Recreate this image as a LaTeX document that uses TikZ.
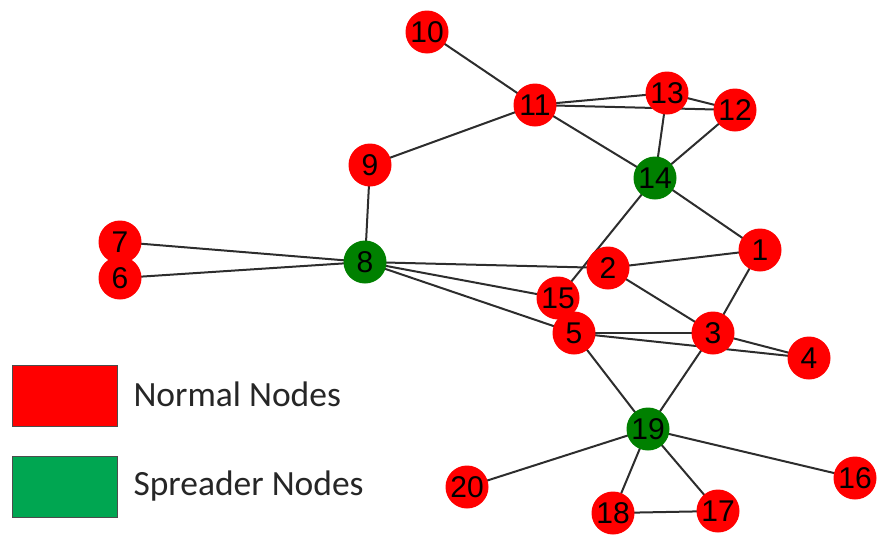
\documentclass[tikz,border=0pt]{standalone}
\usepackage{fontspec}
\setmainfont{Liberation Sans}
\newfontfamily\legendfont{Carlito}
\definecolor{nred}{RGB}{255,0,0}
\definecolor{ngreen}{RGB}{0,128,0}
\definecolor{lgreen}{RGB}{0,166,81}
\definecolor{edgec}{RGB}{45,45,45}
\begin{document}
\begin{tikzpicture}[x=1pt,y=-1pt,
  nd/.style={circle,minimum size=43pt,inner sep=0pt,font=\fontsize{30}{32}\selectfont,text=black},
  normal/.style={nd,fill=nred},
  spreader/.style={nd,fill=ngreen},
  edge/.style={draw=edgec,line width=2pt},
  legbox/.style={draw=black!70,line width=0.8pt,minimum width=105pt,minimum height=61pt,inner sep=0pt},
  legtext/.style={anchor=west,font=\legendfont\fontsize{35.5}{40}\selectfont,text=black!85}]
\useasboundingbox (0,0) rectangle (882,541);
% node positions
\coordinate (p10) at (427,32);
\coordinate (p11) at (535,105);
\coordinate (p13) at (667,93);
\coordinate (p12) at (735,110);
\coordinate (p9) at (370,165);
\coordinate (p14) at (655,178);
\coordinate (p7) at (120,242);
\coordinate (p6) at (120,278);
\coordinate (p8) at (365,262);
\coordinate (p1) at (760,250);
\coordinate (p2) at (608,268);
\coordinate (p15) at (558,298);
\coordinate (p5) at (574,333);
\coordinate (p3) at (713,333);
\coordinate (p4) at (809,358);
\coordinate (p19) at (648,429);
\coordinate (p20) at (467,487);
\coordinate (p18) at (613,513);
\coordinate (p17) at (718,511);
\coordinate (p16) at (855,478);
% edges
\foreach \a/\b in {10/11,11/13,11/12,13/12,11/14,13/14,12/14,11/9,9/8,7/8,6/8,8/2,8/15,8/5,14/15,14/1,2/1,2/3,1/3,5/3,5/4,3/4,5/19,3/19,19/20,19/18,19/17,19/16,18/17}
  \draw[edge] (p\a) -- (p\b);
% nodes
\foreach \n in {10,11,13,12,9,7,6,1,2,15,5,3,4,20,18,17,16}
  \node[normal] (n\n) at (p\n) {\n};
\foreach \n in {8,14,19}
  \node[spreader] (n\n) at (p\n) {\n};
% legend
\node[legbox,fill=nred] (lr) at (64.5,396) {};
\node[legbox,fill=lgreen] (lg) at (64.5,487) {};
\node[legtext] (lt1) at (130,394) {Normal Nodes};
\node[legtext] (lt2) at (130,486) {Spreader Nodes};
\end{tikzpicture}
\end{document}
